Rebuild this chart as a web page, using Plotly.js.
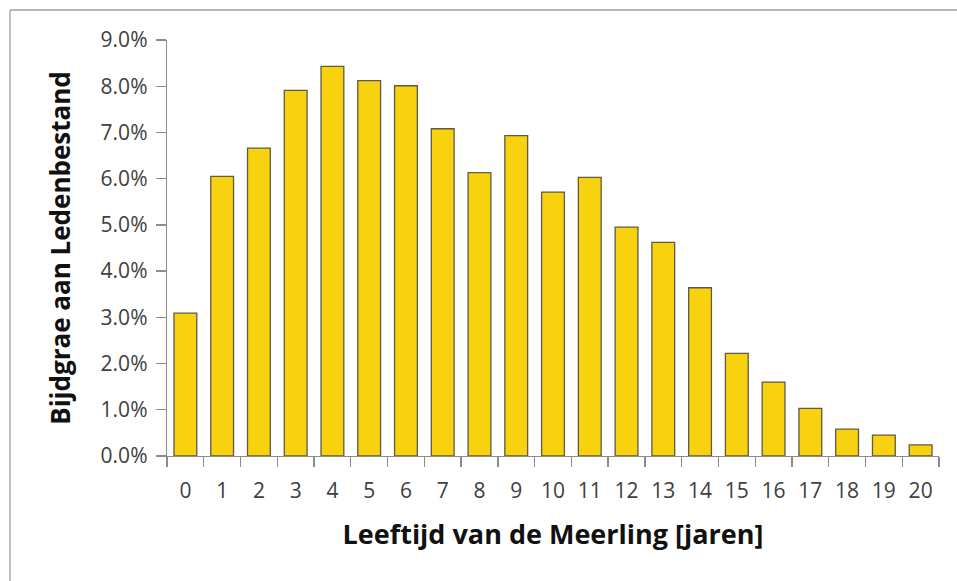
<!DOCTYPE html>
<html>
<head>
<meta charset="utf-8">
<script src="https://cdn.plot.ly/plotly-3.0.1.min.js"></script>
<style>
html,body{margin:0;padding:0;background:#fff;}
#chart{width:957px;height:581px;}
</style>
</head>
<body>
<div id="chart"></div>
<script>
const ages = ["0","1","2","3","4","5","6","7","8","9","10","11","12","13","14","15","16","17","18","19","20"];
const shares = [0.0309,0.0605,0.0666,0.0791,0.0843,0.0812,0.0801,0.0708,0.0613,0.0693,0.0571,0.0603,0.0495,0.0462,0.0364,0.0222,0.0160,0.0103,0.0058,0.0045,0.0024];
const yTickVals = [0,0.01,0.02,0.03,0.04,0.05,0.06,0.07,0.08,0.09];
const yTickText = ["0.0%","1.0%","2.0%","3.0%","4.0%","5.0%","6.0%","7.0%","8.0%","9.0%"];

const W = 957, H = 581;
const mL = 167, mR = 18, mT = 40, mB = 125;
const pw = W - mL - mR, ph = H - mT - mB;
const px = v => (v - mL) / pw;
const py = v => (H - mB - v) / ph;

const tickFont = {family: '"Open Sans", sans-serif', size: 21, color: '#404040'};
const xTitleFont = {family: '"Open Sans", sans-serif', size: 27, color: '#111111', weight: 'bold'};
const yTitleFont = {family: '"Open Sans", sans-serif', size: 26, color: '#111111', weight: 'bold'};

const trace = {
  type: 'bar',
  x: ages,
  y: shares,
  marker: {color: '#F8D10F', line: {color: '#5E5A46', width: 1.3}},
  hoverinfo: 'x+y'
};

const layout = {
  width: W, height: H,
  margin: {l: mL, r: mR, t: mT, b: mB, pad: 0},
  paper_bgcolor: '#ffffff',
  plot_bgcolor: '#ffffff',
  bargap: 0.38,
  showlegend: false,
  font: tickFont,
  xaxis: {
    type: 'category',
    showline: true, linecolor: '#8C8C8C', linewidth: 1.3,
    ticks: 'outside', ticklen: 10, tickcolor: '#8C8C8C', tickwidth: 1.3,
    tickson: 'boundaries',
    ticklabelstandoff: 15,
    showgrid: false, zeroline: false,
    tickfont: tickFont,
    title: {text: 'Leeftijd van de Meerling [jaren]', font: xTitleFont, standoff: 22}
  },
  yaxis: {
    range: [0, 0.09],
    tickvals: yTickVals, ticktext: yTickText,
    showline: true, linecolor: '#8C8C8C', linewidth: 1.3,
    ticks: 'outside', ticklen: 10, tickcolor: '#8C8C8C', tickwidth: 1.3,
    ticklabelstandoff: 4,
    showgrid: false, zeroline: false,
    tickfont: tickFont,
    title: {text: 'Bijdgrae aan Ledenbestand', font: yTitleFont, standoff: 22}
  },
  shapes: [
    {type: 'line', xref: 'paper', yref: 'paper', x0: px(10), x1: px(10), y0: py(10), y1: py(H), line: {color: '#A0A0A0', width: 1.3}},
    {type: 'line', xref: 'paper', yref: 'paper', x0: px(10), x1: px(W), y0: py(10), y1: py(10), line: {color: '#A0A0A0', width: 1.3}}
  ]
};

Plotly.newPlot('chart', [trace], layout, {displayModeBar: false, staticPlot: true});
</script>
</body>
</html>
